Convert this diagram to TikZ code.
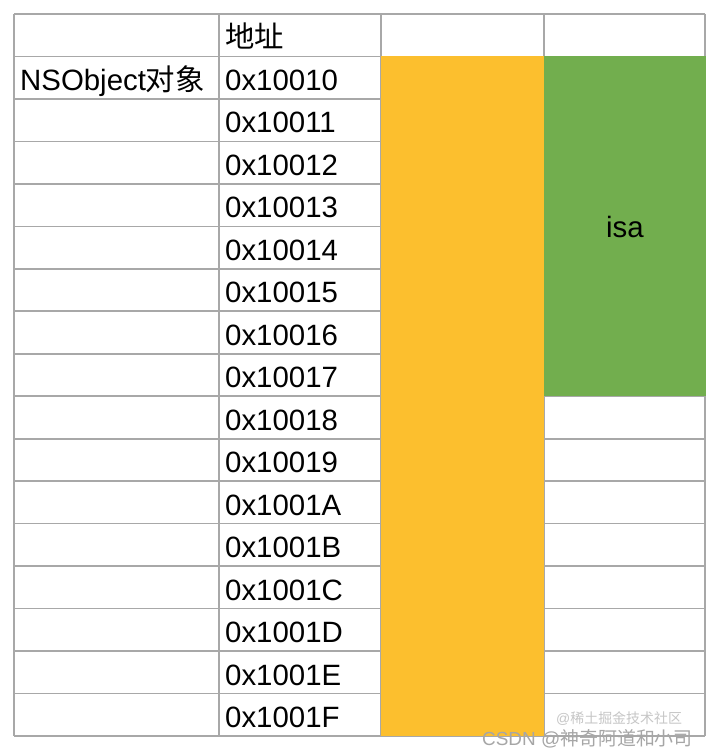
\documentclass[tikz,border=0pt]{standalone}
\usepackage{fontspec}
\setmainfont{Liberation Sans}
\newfontfamily\cjk{Noto Sans CJK SC}

\definecolor{gridgray}{HTML}{A8A8A8}
\definecolor{isaorange}{HTML}{FCBF2E}
\definecolor{isagreen}{HTML}{72AE4E}

\tikzset{
  cell/.style={anchor=base west, inner sep=0pt, font=\fontsize{29.5}{31}\selectfont},
  gridline/.style={draw=gridgray, line width=1.7bp},
  watermark/.style={anchor=base west, inner sep=0pt, text=gray!70}
}

\begin{document}
\begin{tikzpicture}[x=1bp,y=-1bp]
\useasboundingbox[fill=white] (0,0) rectangle (706,756);

\begin{scope}
    % table lines
    \foreach \i in {0,...,17}
        \draw[gridline] (14,{14+42.47*\i}) -- (705,{14+42.47*\i});
    \foreach \x in {14,219,381,544,705}
        \draw[gridline] (\x,14) -- (\x,736);

    % memory blocks
    \fill[isaorange] (381,56.5) rectangle (544,736);
    \fill[isagreen] (544,56.5) rectangle (706,396);
\end{scope}

\begin{scope}
    \node[cell] (hdr) at (225,48) {\cjk 地址};
    \node[cell] (obj) at (20,90.5) {NSObject{\cjk 对象}};

    \foreach \h [count=\i from 0] in {0,1,2,3,4,5,6,7,8,9,A,B,C,D,E,F}
        \node[cell] (addr\h) at (225,{90.5+42.47*\i}) {0x1001\h};

    \node[font=\fontsize{29.5}{31}\selectfont] (isa) at (625,227) {isa};
\end{scope}

\node[watermark, font=\fontsize{14}{16}\selectfont, text=gray!45]
    (juejin) at (556,723) {@{\cjk 稀土掘金技术社区}};
\node[watermark, font=\fontsize{19}{21}\selectfont]
    (csdn) at (482,745) {CSDN @{\cjk 神奇阿道和小司}};

\end{tikzpicture}
\end{document}
